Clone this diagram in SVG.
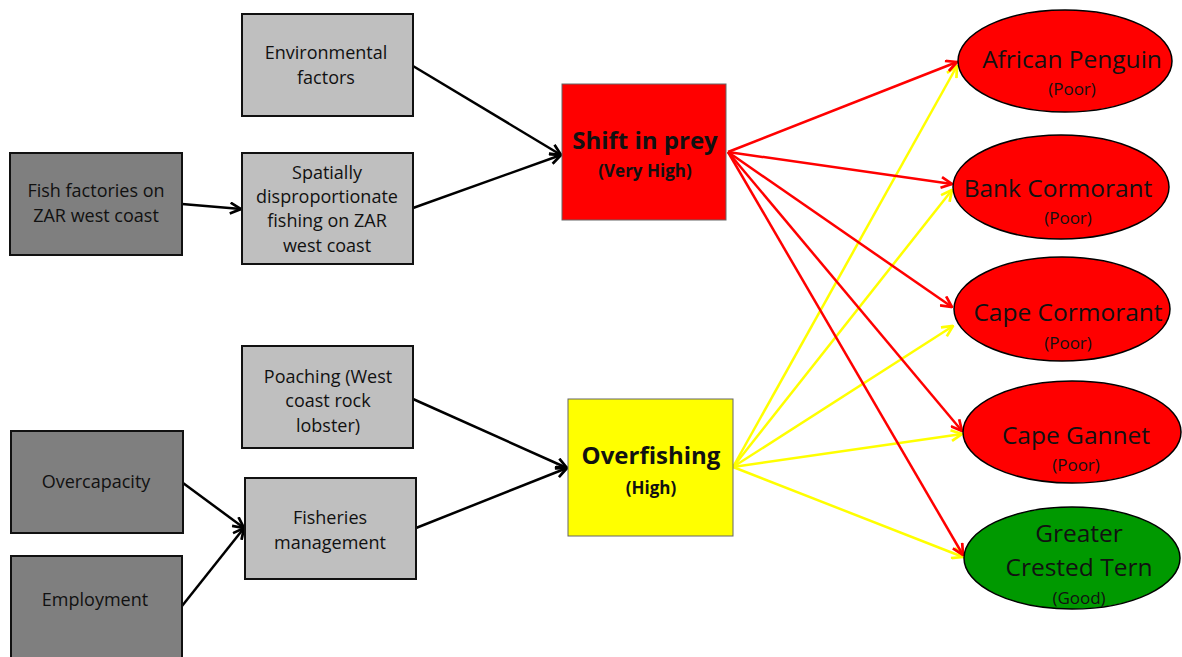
<svg xmlns="http://www.w3.org/2000/svg" width="1182" height="657" viewBox="0 0 1182 657">
<style>
text{font-family:"Open Sans","Liberation Sans",sans-serif;text-anchor:middle;fill:#111}
.box text{font-size:18px}
.dark{fill:#7f7f7f;stroke:#111;stroke-width:2}
.light{fill:#bfbfbf;stroke:#111;stroke-width:2}
.big{font-size:24px;font-weight:bold}
.sub{font-size:17px;font-weight:bold}
.ell{stroke:#000;stroke-width:1.5}
.et{font-size:24.5px}
.ep{font-size:17px}
.k{stroke:#000;stroke-width:2.5;fill:none;marker-end:url(#ak)}
.r{stroke:#ff0000;stroke-width:2.5;fill:none;marker-end:url(#ar)}
.y{stroke:#ffff00;stroke-width:2.5;fill:none;marker-end:url(#ay)}
</style>
<defs>
<marker id="ak" viewBox="0 0 12 12" refX="11" refY="6" markerWidth="13" markerHeight="13" markerUnits="userSpaceOnUse" orient="auto"><path d="M1,1 L11,6 L1,11" fill="none" stroke="#000" stroke-width="2.5"/></marker>
<marker id="ar" viewBox="0 0 12 12" refX="11" refY="6" markerWidth="13" markerHeight="13" markerUnits="userSpaceOnUse" orient="auto"><path d="M1,1 L11,6 L1,11" fill="none" stroke="#ff0000" stroke-width="2.5"/></marker>
<marker id="ay" viewBox="0 0 12 12" refX="11" refY="6" markerWidth="13" markerHeight="13" markerUnits="userSpaceOnUse" orient="auto"><path d="M1,1 L11,6 L1,11" fill="none" stroke="#ffff00" stroke-width="2.5"/></marker>
</defs>
<rect width="1182" height="657" fill="#fff"/>
<g id="connectors">
<line class="k" x1="413" y1="66" x2="561" y2="155"/>
<line class="k" x1="413" y1="208" x2="561" y2="155"/>
<line class="k" x1="182" y1="204" x2="241" y2="209"/>
<line class="k" x1="413" y1="399" x2="567" y2="468"/>
<line class="k" x1="416" y1="528" x2="567" y2="468"/>
<line class="k" x1="183" y1="483" x2="244" y2="528"/>
<line class="k" x1="182" y1="606" x2="244" y2="528"/>
<line class="y" x1="733" y1="467" x2="957" y2="66"/>
<line class="y" x1="733" y1="467" x2="952" y2="190"/>
<line class="y" x1="733" y1="467" x2="953" y2="326"/>
<line class="y" x1="733" y1="467" x2="962" y2="434"/>
<line class="y" x1="733" y1="467" x2="963" y2="557"/>
<line class="r" x1="728" y1="152" x2="957" y2="62"/>
<line class="r" x1="728" y1="152" x2="952" y2="184"/>
<line class="r" x1="728" y1="152" x2="952" y2="307"/>
<line class="r" x1="728" y1="152" x2="962" y2="431"/>
<line class="r" x1="728" y1="152" x2="963" y2="555"/>
</g>
<g id="env" class="box"><rect class="light" x="242" y="14" width="171" height="102"/><text x="326" y="59">Environmental</text><text x="326" y="84">factors</text></g>
<g id="spatial" class="box"><rect class="light" x="242" y="153" width="171" height="111"/><text x="327" y="179">Spatially</text><text x="327" y="203">disproportionate</text><text x="327" y="227">fishing on ZAR</text><text x="327" y="252">west coast</text></g>
<g id="fishfactories" class="box"><rect class="dark" x="10" y="153" width="172" height="102"/><text x="96" y="197">Fish factories on</text><text x="96" y="222">ZAR west coast</text></g>
<g id="poaching" class="box"><rect class="light" x="242" y="346" width="171" height="102"/><text x="328" y="383">Poaching (West</text><text x="328" y="407">coast rock</text><text x="328" y="432">lobster)</text></g>
<g id="fisheries" class="box"><rect class="light" x="245" y="478" width="171" height="101"/><text x="330" y="524">Fisheries</text><text x="330" y="549">management</text></g>
<g id="overcapacity" class="box"><rect class="dark" x="11" y="431" width="172" height="102"/><text x="96" y="488">Overcapacity</text></g>
<g id="employment" class="box"><rect class="dark" x="11" y="556" width="171" height="110"/><text x="95" y="606">Employment</text></g>
<g id="shift"><rect x="562" y="84" width="164" height="136" fill="#ff0000" stroke="#666" stroke-width="1"/><text class="big" x="645" y="149">Shift in prey</text><text class="sub" x="645" y="177">(Very High)</text></g>
<g id="overfishing"><rect x="568" y="399" width="165" height="137" fill="#ffff00" stroke="#666" stroke-width="1"/><text class="big" x="651" y="464">Overfishing</text><text class="sub" x="651" y="494">(High)</text></g>
<g id="penguin"><ellipse class="ell" cx="1065" cy="61" rx="107" ry="51" fill="#ff0000"/><text class="et" x="1072" y="68">African Penguin</text><text class="ep" x="1072" y="95">(Poor)</text></g>
<g id="bank"><ellipse class="ell" cx="1061" cy="187" rx="108" ry="52" fill="#ff0000"/><text class="et" x="1058" y="197">Bank Cormorant</text><text class="ep" x="1068" y="224">(Poor)</text></g>
<g id="capecormorant"><ellipse class="ell" cx="1062" cy="309" rx="108" ry="52" fill="#ff0000"/><text class="et" x="1068" y="321">Cape Cormorant</text><text class="ep" x="1068" y="349">(Poor)</text></g>
<g id="gannet"><ellipse class="ell" cx="1072" cy="432" rx="109" ry="51" fill="#ff0000"/><text class="et" x="1076" y="444">Cape Gannet</text><text class="ep" x="1076" y="471">(Poor)</text></g>
<g id="tern"><ellipse class="ell" cx="1072" cy="558" rx="108" ry="51" fill="#009900"/><text class="et" x="1079" y="542">Greater</text><text class="et" x="1079" y="576">Crested Tern</text><text class="ep" x="1079" y="604">(Good)</text></g>
</svg>
